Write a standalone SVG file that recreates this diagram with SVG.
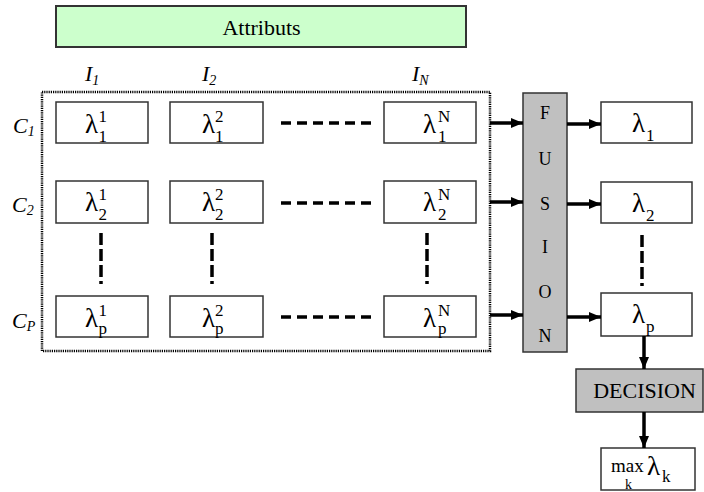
<svg xmlns="http://www.w3.org/2000/svg" width="704" height="492" viewBox="0 0 704 492">
<defs>
<marker id="ah" markerWidth="12" markerHeight="10" refX="12" refY="5" orient="auto" markerUnits="userSpaceOnUse"><path d="M0,0 L12,5 L0,10 z" fill="#000"/></marker>
<style>
.box{fill:#fff;stroke:#333;stroke-width:1.5}
.gray{fill:#c0c0c0;stroke:#333;stroke-width:1.5}
.t{font-family:"Liberation Serif","Times New Roman",serif;fill:#000}
.lam{font-size:27px}
.sc{font-size:17px}
.it{font-style:italic;font-size:22px}
.its{font-style:italic;font-size:14px}
.big{font-size:22px}
.fu{font-size:18px;text-anchor:middle}
.arr{stroke:#000;stroke-width:3.5;fill:none;marker-end:url(#ah)}
.hd{stroke:#000;stroke-width:3.5;stroke-dasharray:10 6;fill:none}
.vd{stroke:#000;stroke-width:3.5;stroke-dasharray:12 4;fill:none}
.frame{fill:none;stroke:#000;stroke-width:2.5;stroke-dasharray:1.2 1}
</style>
</defs>
<rect width="704" height="492" fill="#fff"/>

<g id="attributs">
<rect x="56" y="6" width="410" height="41" fill="#ccffcc" stroke="#333" stroke-width="2"/>
<text class="t big" x="261.5" y="35" text-anchor="middle">Attributs</text>
</g>

<g id="frame"><rect class="frame" x="42" y="92" width="448" height="259"/></g>

<g id="labels">
<text class="t it" x="85" y="81">I<tspan class="its" dy="4">1</tspan></text>
<text class="t it" x="202" y="81">I<tspan class="its" dy="4">2</tspan></text>
<text class="t it" x="412" y="81">I<tspan class="its" dy="4">N</tspan></text>
<text class="t it" x="13" y="133">C<tspan class="its" dy="3">1</tspan></text>
<text class="t it" x="12" y="212">C<tspan class="its" dy="3">2</tspan></text>
<text class="t it" x="12" y="328">C<tspan class="its" dy="3">P</tspan></text>
</g>

<g id="n11"><rect class="box" x="56" y="102" width="92" height="41"/><text class="t lam" x="85" y="133">λ</text><text class="t sc" x="98.5" y="122">1</text><text class="t sc" x="98.5" y="142">1</text></g>
<g id="n12"><rect class="box" x="170" y="102" width="93" height="41"/><text class="t lam" x="202" y="133">λ</text><text class="t sc" x="215" y="122">2</text><text class="t sc" x="215" y="142">1</text></g>
<g id="n1N"><rect class="box" x="384" y="102" width="92" height="41"/><text class="t lam" x="423" y="133">λ</text><text class="t sc" x="438" y="122">N</text><text class="t sc" x="438" y="142">1</text></g>

<g id="n21"><rect class="box" x="56" y="181" width="92" height="42"/><text class="t lam" x="85" y="211">λ</text><text class="t sc" x="98.5" y="200">1</text><text class="t sc" x="98.5" y="220">2</text></g>
<g id="n22"><rect class="box" x="170" y="181" width="93" height="42"/><text class="t lam" x="202" y="211">λ</text><text class="t sc" x="215" y="200">2</text><text class="t sc" x="215" y="220">2</text></g>
<g id="n2N"><rect class="box" x="384" y="181" width="92" height="42"/><text class="t lam" x="423" y="211">λ</text><text class="t sc" x="438" y="200">N</text><text class="t sc" x="438" y="220">2</text></g>

<g id="nP1"><rect class="box" x="56" y="296" width="92" height="41"/><text class="t lam" x="85" y="327">λ</text><text class="t sc" x="98.5" y="316">1</text><text class="t sc" x="98.5" y="334">p</text></g>
<g id="nP2"><rect class="box" x="170" y="296" width="93" height="41"/><text class="t lam" x="202" y="327">λ</text><text class="t sc" x="215" y="316">2</text><text class="t sc" x="215" y="334">p</text></g>
<g id="nPN"><rect class="box" x="384" y="296" width="92" height="41"/><text class="t lam" x="423" y="327">λ</text><text class="t sc" x="438" y="316">N</text><text class="t sc" x="438" y="334">p</text></g>

<g id="fusion"><rect class="gray" x="523" y="93" width="44" height="259"/>
<text class="t fu" x="545" y="119">F</text>
<text class="t fu" x="545" y="165">U</text>
<text class="t fu" x="545" y="210">S</text>
<text class="t fu" x="545" y="253">I</text>
<text class="t fu" x="545" y="298">O</text>
<text class="t fu" x="545" y="342">N</text>
</g>

<g id="r1"><rect class="box" x="601" y="102" width="91" height="41"/><text class="t lam" x="632" y="132">λ</text><text class="t sc" x="646" y="141">1</text></g>
<g id="r2"><rect class="box" x="601" y="182" width="91" height="41"/><text class="t lam" x="632" y="212">λ</text><text class="t sc" x="646" y="221">2</text></g>
<g id="rP"><rect class="box" x="601" y="293" width="91" height="43"/><text class="t lam" x="632" y="323">λ</text><text class="t sc" x="646" y="332">p</text></g>

<g id="decision"><rect class="gray" x="576" y="369" width="127" height="43"/><text class="t big" x="644.5" y="398" text-anchor="middle">DECISION</text></g>

<g id="max"><rect class="box" x="601" y="448" width="94" height="42"/>
<text class="t" x="611" y="472" font-size="19">max</text>
<text class="t" x="625" y="489" font-size="14">k</text>
<text class="t lam" x="647" y="475">λ</text>
<text class="t sc" x="662" y="482">k</text>
</g>

<g id="connectors">
<line class="arr" x1="490" y1="123" x2="523" y2="123"/>
<line class="arr" x1="490" y1="202" x2="523" y2="202"/>
<line class="arr" x1="490" y1="315" x2="523" y2="315"/>
<line class="arr" x1="567" y1="124" x2="601" y2="124"/>
<line class="arr" x1="567" y1="204" x2="601" y2="204"/>
<line class="arr" x1="567" y1="317" x2="601" y2="317"/>
<line class="arr" x1="644" y1="336" x2="644" y2="369"/>
<line class="arr" x1="644" y1="412" x2="644" y2="448"/>
<line class="hd" x1="281" y1="123" x2="373" y2="123"/>
<line class="hd" x1="281" y1="203" x2="373" y2="203"/>
<line class="hd" x1="281" y1="317" x2="373" y2="317"/>
<line class="vd" x1="101" y1="233" x2="101" y2="284"/>
<line class="vd" x1="212" y1="233" x2="212" y2="284"/>
<line class="vd" x1="427" y1="233" x2="427" y2="284"/>
<line class="vd" x1="642" y1="235" x2="642" y2="286"/>
</g>
</svg>
